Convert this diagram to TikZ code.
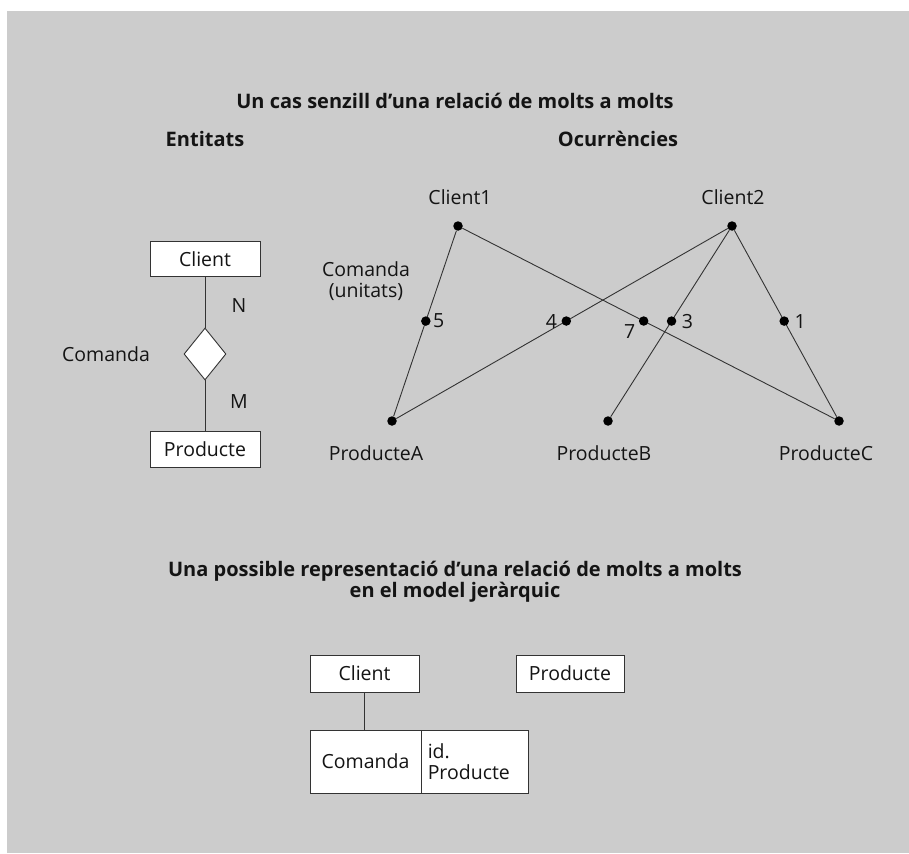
\documentclass[tikz,border=0pt]{standalone}
\usepackage{fontspec}
\setmainfont{Open Sans}
\usetikzlibrary{shapes.geometric}
\definecolor{panel}{HTML}{CCCCCC}
\definecolor{ink}{HTML}{141414}
\definecolor{wire}{HTML}{333333}
\tikzset{
  txt/.style={font=\fontsize{19.5}{21}\selectfont, text=ink, inner sep=0pt},
  head/.style={font=\fontsize{20}{22}\selectfont\bfseries, text=ink, inner sep=0pt, align=center},
  box/.style={draw=wire, line width=0.9pt, fill=white, inner sep=0pt, font=\fontsize{19.5}{21}\selectfont, text=ink},
  dot/.style={circle, fill=black, inner sep=0pt, minimum size=9.5pt},
  wireline/.style={draw=wire, line width=0.9pt},
}
\begin{document}
\begin{tikzpicture}[x=1pt,y=-1pt]
\useasboundingbox (0,0) rectangle (909,853);
\fill[white] (0,0) rectangle (909,853);
\fill[panel] (7,11) rectangle (909,853);

% headings
\node[head] (t1) at (455,101) {Un cas senzill d’una relació de molts a molts};
\node[head] (t2) at (205,139) {Entitats};
\node[head] (t3) at (618,139) {Ocurrències};

% entity-relationship view
\node[box, minimum width=110pt, minimum height=35pt] (ce) at (205,259) {Client};
\node[box, diamond, minimum width=42pt, minimum height=52pt] (rel) at (205,354) {};
\node[box, minimum width=110pt, minimum height=36pt] (pe) at (205,449.5) {Producte};
\draw[wireline] (ce) -- (rel);
\draw[wireline] (rel) -- (pe);
\node[txt] (ln) at (239,306) {N};
\node[txt] (lm) at (239,402) {M};
\node[txt] (lc) at (106,354) {Comanda};

% occurrences
\node[dot] (c1) at (458,226) {};
\node[dot] (c2) at (732,226) {};
\node[dot] (pa) at (392,421) {};
\node[dot] (pb) at (608,421) {};
\node[dot] (pc) at (839,421) {};
\node[txt] (lc1) at (460,197) {Client1};
\node[txt] (lc2) at (733,197) {Client2};
\node[txt] (lpa) at (376,453) {ProducteA};
\node[txt] (lpb) at (604,453) {ProducteB};
\node[txt] (lpc) at (826,453) {ProducteC};
\node[txt, align=center] (lcu) at (366,281) {Comanda\\(unitats)};

\draw[wireline] (c1) -- (pa) node[dot, pos=0.487] (d5) {};
\draw[wireline] (c1) -- (pc) node[dot, pos=0.487] (d7) {};
\draw[wireline] (c2) -- (pa) node[dot, pos=0.487] (d4) {};
\draw[wireline] (c2) -- (pb) node[dot, pos=0.487] (d3) {};
\draw[wireline] (c2) -- (pc) node[dot, pos=0.487] (d1) {};
\node[txt, anchor=west] (l5) at ([xshift=2pt]d5.east) {5};
\node[txt, anchor=east] (l4) at ([xshift=-4pt]d4.west) {4};
\node[txt] (l7) at ([xshift=-14pt,yshift=-11pt]d7.center) {7};
\node[txt, anchor=west] (l3) at ([xshift=5pt]d3.east) {3};
\node[txt, anchor=west] (l1) at ([xshift=5pt]d1.east) {1};

% hierarchical model
\node[head] (t4) at (455,582) {Una possible representació d’una relació de molts a molts\\[-1pt]en el model jeràrquic};
\node[box, minimum width=109pt, minimum height=37pt] (bc) at (364.5,673.5) {Client};
\node[box, minimum width=108pt, minimum height=37pt] (bp) at (570,673.5) {Producte};
\node[box, minimum width=111pt, minimum height=63pt] (bcm) at (365.5,761.5) {Comanda};
\node[box, minimum width=107pt, minimum height=63pt] (bid) at (474.5,761.5) {};
\node[txt, anchor=west, align=left] (lid) at ([xshift=7pt]bid.west) {id.\\Producte};
\draw[wireline] (bc.south) -- (bc.south |- bcm.north);
\end{tikzpicture}
\end{document}
